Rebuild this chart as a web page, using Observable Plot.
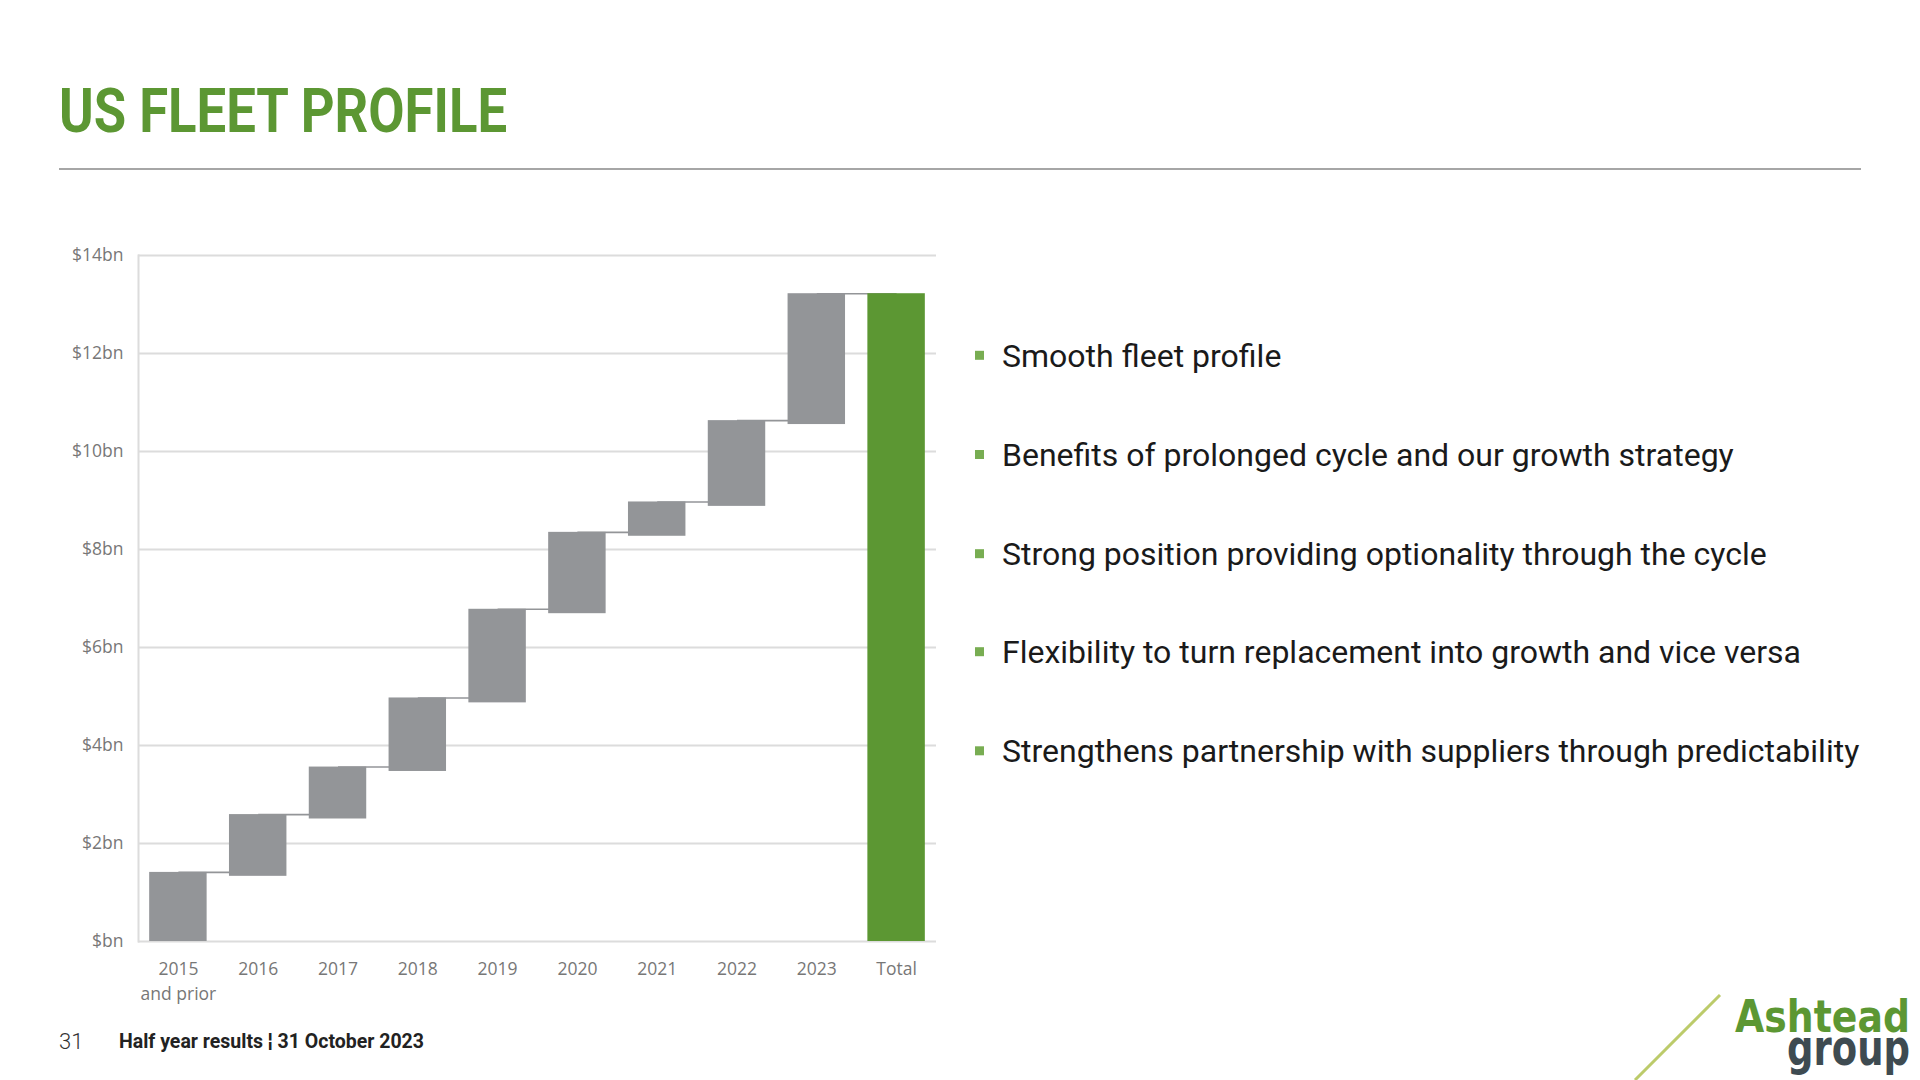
<!DOCTYPE html>
<html>
<head>
<meta charset="utf-8">
<script src="https://cdn.jsdelivr.net/npm/d3@7"></script>
<script src="https://cdn.jsdelivr.net/npm/@observablehq/plot@0.6"></script>
<style>
  html, body { margin: 0; padding: 0; background: #ffffff; }
  body { width: 1920px; height: 1080px; position: relative; overflow: hidden; }
  #chart { position: absolute; left: 0; top: 230px; }
  #deco { position: absolute; left: 0; top: 0; }
</style>
</head>
<body>
<svg id="deco" width="1920" height="1080" xmlns="http://www.w3.org/2000/svg">
  <text x="59" y="132" textLength="448" lengthAdjust="spacingAndGlyphs" font-family="Roboto" font-weight="700" font-size="62" fill="#5c9733">US FLEET PROFILE</text>
  <line x1="59" x2="1861" y1="169" y2="169" stroke="#a6a6a6" stroke-width="2"/>
  <text x="59" y="1049" font-family="Roboto" font-weight="300" font-size="22" fill="#333333">31</text>
  <text x="119" y="1048" textLength="305" lengthAdjust="spacingAndGlyphs" font-family="Roboto" font-weight="700" font-size="21" fill="#222222">Half year results ¦ 31 October 2023</text>
  <line x1="1635" y1="1080" x2="1720" y2="995" stroke="#bccb6a" stroke-width="3"/>
  <text x="1735" y="1031.5" textLength="175" lengthAdjust="spacingAndGlyphs" font-family="'DejaVu Sans'" font-weight="700" font-size="45" fill="#5c9733">Ashtead</text>
  <text x="1787" y="1065" textLength="123" lengthAdjust="spacingAndGlyphs" font-family="'DejaVu Sans'" font-weight="700" font-size="49" fill="#3e4b51">group</text>
  <g id="bullets"></g>
</svg>
<div id="chart"></div>
<script>
// ---- data ----
const categories = ["2015\nand prior", "2016", "2017", "2018", "2019", "2020", "2021", "2022", "2023", "Total"];
const barStart = [0, 1.33, 2.50, 3.47, 4.87, 6.69, 8.27, 8.88, 10.55, 0];
const barEnd   = [1.41, 2.59, 3.56, 4.97, 6.78, 8.35, 8.97, 10.63, 13.22, 13.22];
const barKind  = ["step", "step", "step", "step", "step", "step", "step", "step", "step", "total"];
const yTicks = [0, 2, 4, 6, 8, 10, 12, 14];
const yTickLabels = ["$bn", "$2bn", "$4bn", "$6bn", "$8bn", "$10bn", "$12bn", "$14bn"];
const bullets = [
  "Smooth fleet profile",
  "Benefits of prolonged cycle and our growth strategy",
  "Strong position providing optionality through the cycle",
  "Flexibility to turn replacement into growth and vice versa",
  "Strengthens partnership with suppliers through predictability"
];

// ---- build tables ----
const bars = categories.map((c, i) => ({cat: c, start: barStart[i], end: barEnd[i], kind: barKind[i]}));
const connectors = categories.slice(0, -1).map((c, i) => ({from: c, to: categories[i + 1], y: barEnd[i]}));

const chart = Plot.plot({
  width: 960,
  height: 790,
  marginLeft: 138,
  marginRight: 24,
  marginTop: 25,
  marginBottom: 79,
  style: {fontFamily: "'Open Sans', sans-serif", fontSize: "17.5px", color: "#777777", background: "transparent", overflow: "visible"},
  x: {domain: categories, paddingInner: 0.28, paddingOuter: 0.14, align: 0.5, round: false, label: null},
  y: {domain: [0, 14], label: null},
  color: {domain: ["step", "total"], range: ["#939598", "#5c9733"]},
  marks: [
    Plot.ruleY(yTicks, {stroke: "#dcdcdc", strokeWidth: 2}),
    Plot.frame({anchor: "left", stroke: "#dcdcdc", strokeWidth: 2}),
    Plot.link(connectors, {x1: "from", x2: "to", y1: "y", y2: "y", stroke: "#939598", strokeWidth: 1.6}),
    Plot.barY(bars, {x: "cat", y1: "start", y2: "end", fill: "kind"}),
    Plot.axisY(yTicks, {tickSize: 0, tickPadding: 15, tickFormat: d => yTickLabels[yTicks.indexOf(d)], label: null}),
    Plot.axisX({tickSize: 0, tickPadding: 15, lineHeight: 1.45, label: null})
  ]
});
document.getElementById("chart").appendChild(chart);

// ---- bullets ----
const ns = "http://www.w3.org/2000/svg";
const g = document.getElementById("bullets");
const baselines = [366.8, 466, 565.2, 663.2, 762.3];
bullets.forEach((t, i) => {
  const r = document.createElementNS(ns, "rect");
  r.setAttribute("x", 975); r.setAttribute("y", baselines[i] - 16);
  r.setAttribute("width", 9); r.setAttribute("height", 9);
  r.setAttribute("fill", "#78ad52");
  g.appendChild(r);
  const tx = document.createElementNS(ns, "text");
  tx.setAttribute("x", 1002); tx.setAttribute("y", baselines[i]);
  tx.setAttribute("font-family", "Roboto"); tx.setAttribute("font-size", "32");
  tx.setAttribute("fill", "#1a1a1a");
  tx.textContent = t;
  g.appendChild(tx);
});
</script>
</body>
</html>
